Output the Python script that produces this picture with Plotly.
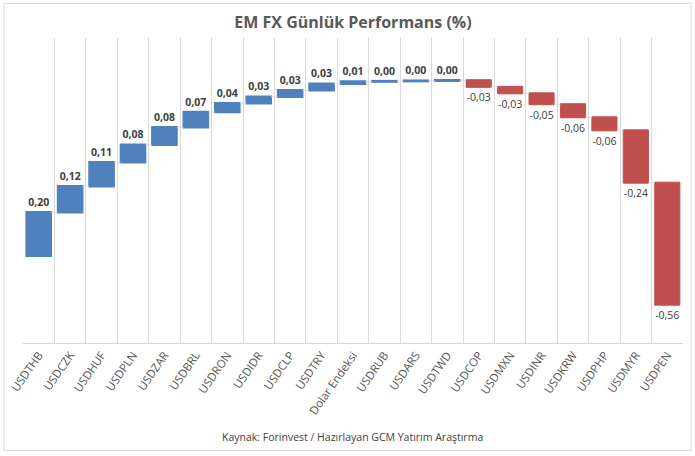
import plotly.graph_objects as go

categories = ["USDTHB", "USDCZK", "USDHUF", "USDPLN", "USDZAR", "USDBRL", "USDRON",
              "USDIDR", "USDCLP", "USDTRY", "Dolar Endeksi", "USDRUB", "USDARS", "USDTWD",
              "USDCOP", "USDMXN", "USDINR", "USDKRW", "USDPHP", "USDMYR", "USDPEN"]
values = [0.20, 0.12, 0.11, 0.08, 0.08, 0.07, 0.04, 0.03, 0.03, 0.03, 0.01,
          0.002, 0.002, 0.002, -0.03, -0.03, -0.05, -0.06, -0.06, -0.24, -0.56]

title_text = "EM FX Günlük Performans (%)"
source_text = "Kaynak: Forinvest / Hazırlayan GCM Yatırım Araştırma"

def fmt(v):
    s = f"{v:.2f}".replace(".", ",")
    if s == "-0,00":
        s = "0,00"
    return f"<b>{s}</b>" if v >= 0 else s

labels = [fmt(v) for v in values]

W, H = 695, 456
L, R, T, B = 23, 12, 38, 113
pw, ph = W - L - R, H - T - B

def px_x(x):
    return (x - L) / pw

def px_y(y):
    return (H - B - y) / ph

BLUE = "#4F81BD"
RED = "#C0504D"
GRID = "#D9D9D9"

fig = go.Figure(go.Waterfall(
    x=categories,
    y=values,
    measure=["relative"] * len(values),
    base=0,
    text=labels,
    textposition="outside",
    textfont=dict(family="Open Sans", size=10.5, color="#404040"),
    increasing=dict(marker=dict(color=BLUE, line=dict(color=BLUE, width=1.5))),
    decreasing=dict(marker=dict(color=RED, line=dict(color=RED, width=1))),
    connector=dict(line=dict(color=GRID, width=1)),
    cliponaxis=False,
    hoverinfo="skip",
))

fig.update_layout(
    template="none",
    width=W, height=H,
    margin=dict(l=L, r=R, t=T, b=B, autoexpand=False),
    paper_bgcolor="white",
    plot_bgcolor="white",
    separators=",.",
    showlegend=False,
    bargap=0.3,
    title=dict(text=f"<b>{title_text}</b>", x=0.5, xanchor="center", xref="paper",
               y=1 - 22 / H, yanchor="middle", yref="container",
               font=dict(family="Open Sans", size=16, color="#595959")),
    xaxis=dict(
        type="category",
        automargin=False,
        tickson="boundaries",
        showgrid=True, gridcolor=GRID, gridwidth=1,
        showline=True, linecolor=GRID, linewidth=1,
        ticks="", tickangle=-55, zeroline=False,
        tickfont=dict(family="Open Sans", size=11.5, color="#595959"),
        range=[-0.5, len(categories) - 0.5],
    ),
    yaxis=dict(visible=False, automargin=False, range=[-0.4, 1.0]),
    annotations=[dict(
        text=source_text, xref="paper", yref="paper",
        x=px_x(352), y=px_y(437), xanchor="center", yanchor="middle",
        showarrow=False,
        font=dict(family="Open Sans", size=10.5, color="#404040"),
    )],
    shapes=[dict(
        type="rect", xref="paper", yref="paper",
        x0=px_x(4), x1=px_x(691), y0=px_y(450.5), y1=px_y(3.5),
        line=dict(color=GRID, width=1), fillcolor="rgba(0,0,0,0)", layer="below",
    )],
)

fig.write_html("out.html",
               config={"displayModeBar": False, "staticPlot": True},
               post_script="document.body.style.margin='0';document.body.style.overflow='hidden';")
